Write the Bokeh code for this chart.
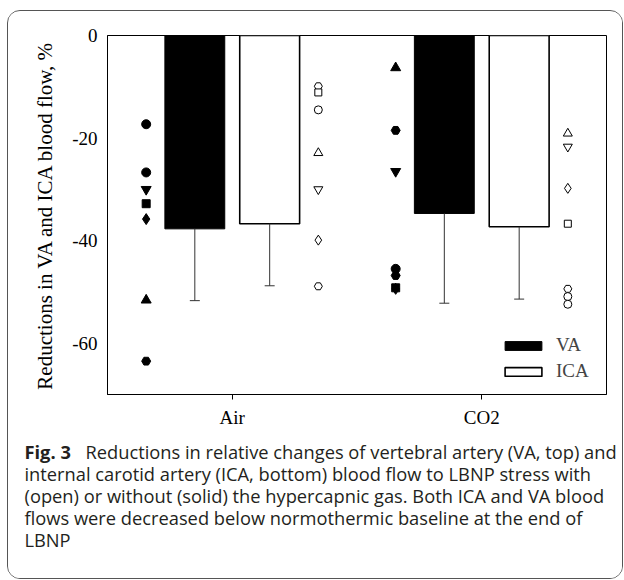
from bokeh.plotting import figure
from bokeh.models import Range1d, FixedTicker, Legend, LegendItem, ColumnDataSource
from bokeh.layouts import column
from bokeh.core.properties import value
from bokeh.embed import file_html
from bokeh.resources import INLINE

# ---- data ----
groups = ["Air", "CO2"]
va_mean = [-37.7, -34.7]
va_sd = [14.0, 17.5]
ica_mean = [-36.7, -37.3]
ica_sd = [12.1, 14.1]

va_air_pts = [-17.3, -26.7, -30.0, -32.8, -35.8, -51.6, -63.5]
va_air_mk = ["circle", "circle", "inverted_triangle", "square", "diamond", "triangle", "hex"]
ica_air_pts = [-9.9, -11.1, -14.5, -22.9, -30.0, -39.9, -48.9]
ica_air_mk = ["hex", "square", "circle", "triangle", "inverted_triangle", "diamond", "hex"]
va_co2_pts = [-6.3, -18.5, -26.5, -45.5, -46.8, -49.2, -49.4]
va_co2_mk = ["triangle", "hex", "inverted_triangle", "circle", "hex", "square", "diamond"]
ica_co2_pts = [-19.1, -21.7, -29.8, -36.7, -49.4, -50.9, -52.4]
ica_co2_mk = ["triangle", "inverted_triangle", "diamond", "square", "hex", "circle", "circle"]

y_ticks = [0, -20, -40, -60]
y_label = "Reductions in VA and ICA blood flow, %"
caption_bold = "Fig. 3"
caption_lines = [
    "Reductions in relative changes of vertebral artery (VA, top) and",
    "internal carotid artery (ICA, bottom) blood flow to LBNP stress with",
    "(open) or without (solid) the hypercapnic gas. Both ICA and VA blood",
    "flows were decreased below normothermic baseline at the end of",
    "LBNP",
]

# ---- layout constants ----
SERIF = "Liberation Serif"
SANS = "Open Sans"
BAR_W = 0.24
OFF = 0.15
PT_OFF = 0.345
CAP = 0.02

xs = [i + 1 for i in range(len(groups))]

p = figure(width=614, height=428, output_backend="svg", toolbar_location=None,
           x_range=Range1d(0.5, 2.5), y_range=Range1d(-70, 0),
           min_border_left=99, min_border_top=24, min_border_right=16, min_border_bottom=45)
p.xgrid.visible = False
p.ygrid.visible = False
p.outline_line_color = "black"
p.outline_line_width = 1
p.background_fill_color = "white"
p.border_fill_color = "white"

# bars
va_x = [x - OFF for x in xs]
ica_x = [x + OFF for x in xs]
va_r = p.vbar(x=va_x, top=0, bottom=va_mean, width=BAR_W, fill_color="black", line_color="black", line_width=1)
ica_r = p.vbar(x=ica_x, top=0, bottom=ica_mean, width=BAR_W, fill_color="white", line_color="black", line_width=1.6)

# error bars (downward only)
for bx, m, s in [(va_x, va_mean, va_sd), (ica_x, ica_mean, ica_sd)]:
    lo = [mm - ss for mm, ss in zip(m, s)]
    p.segment(x0=bx, y0=m, x1=bx, y1=lo, line_color="#333333", line_width=1)
    p.segment(x0=[b - CAP for b in bx], y0=lo, x1=[b + CAP for b in bx], y1=lo,
              line_color="#333333", line_width=1)

SIZES = {"circle": 9, "hex": 9, "triangle": 10, "inverted_triangle": 10, "square": 8, "diamond": 11}

def pts(x, ys, mks, solid):
    src = ColumnDataSource(dict(x=[x] * len(ys), y=ys, marker=mks,
                                size=[SIZES[m] - (1 if not solid else 0) for m in mks]))
    p.scatter(x="x", y="y", marker="marker", size="size", source=src,
              fill_color="black" if solid else "white", line_color="black", line_width=1)

pts(xs[0] - PT_OFF, va_air_pts, va_air_mk, True)
pts(xs[0] + PT_OFF, ica_air_pts, ica_air_mk, False)
pts(xs[1] - PT_OFF, va_co2_pts, va_co2_mk, True)
pts(xs[1] + PT_OFF, ica_co2_pts, ica_co2_mk, False)

# axes
p.yaxis.ticker = FixedTicker(ticks=y_ticks)
p.yaxis.major_label_overrides = {t: str(t) for t in y_ticks}
p.yaxis.major_tick_out = 0
p.yaxis.major_tick_in = 0
p.yaxis.minor_tick_line_color = None
p.yaxis.major_label_standoff = 10
p.yaxis.axis_label = y_label
p.yaxis.axis_label_text_font = SERIF
p.yaxis.axis_label_text_font_size = "21px"
p.yaxis.axis_label_text_font_style = "normal"
p.yaxis.axis_label_text_color = "black"
p.yaxis.axis_label_standoff = 12
p.xaxis.ticker = FixedTicker(ticks=xs)
p.xaxis.major_label_overrides = {x: g for x, g in zip(xs, groups)}
p.xaxis.major_tick_out = 5
p.xaxis.major_tick_in = 0
p.xaxis.minor_tick_line_color = None
p.xaxis.major_label_standoff = 7
for ax in (p.xaxis, p.yaxis):
    ax.axis_line_color = "black"
    ax.major_tick_line_color = "black"
    ax.major_label_text_font = SERIF
    ax.major_label_text_font_size = "19px"
    ax.major_label_text_color = "black"
p.yaxis.major_tick_line_color = None

legend = Legend(items=[LegendItem(label="VA", renderers=[va_r]),
                       LegendItem(label="ICA", renderers=[ica_r])],
                location=(393, 12), orientation="vertical",
                glyph_width=46, glyph_height=11, label_height=21, spacing=4,
                label_standoff=10, padding=0, margin=0,
                border_line_color=None, background_fill_alpha=0,
                label_text_font=SERIF, label_text_font_size="19px")
p.add_layout(legend)

# ---- caption panel (pixel coordinates, y downward) ----
CW, CH = 614, 139
c = figure(width=CW, height=CH, output_backend="svg", toolbar_location=None,
           x_range=Range1d(0, CW), y_range=Range1d(CH, 0), min_border=0)
c.axis.visible = False
c.xgrid.visible = False
c.ygrid.visible = False
c.outline_line_color = None
c.background_fill_color = "white"
c.border_fill_color = "white"
if "frame_align" in c.properties():
    c.frame_align = False
    p.frame_align = False

LX, FIRST_X, BASE0, PITCH = 16, 77, 12, 21.9
cap_font = dict(text_font=value(SANS), text_font_size="18.3px", text_color="#231f20",
                text_baseline="alphabetic", text_align="left")
c.text(x=[LX], y=[BASE0], text=[caption_bold], text_font_style="bold", **cap_font)
line_x = [FIRST_X] + [LX] * (len(caption_lines) - 1)
line_y = [BASE0 + PITCH * i for i in range(len(caption_lines))]
c.text(x=line_x, y=line_y, text=caption_lines, **cap_font)

lay = column(p, c, styles={"border": "1px solid #555555", "border-radius": "13px",
                           "background": "white", "margin": "10px 0 0 7px",
                           "overflow": "hidden"})

open("out.html", "w").write(file_html(lay, INLINE))
